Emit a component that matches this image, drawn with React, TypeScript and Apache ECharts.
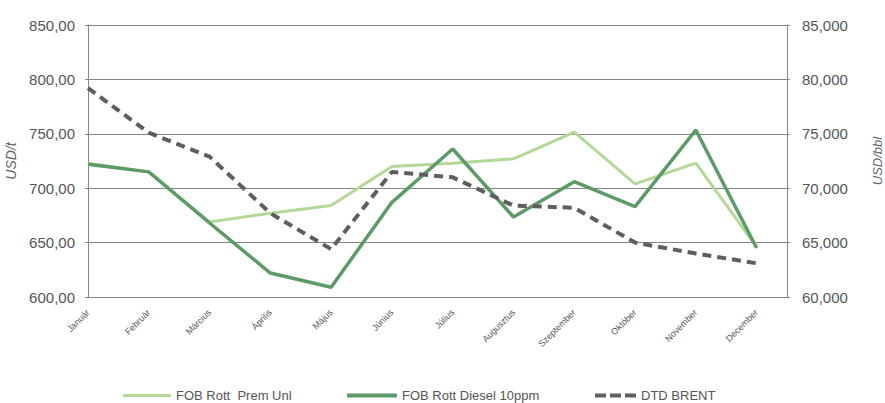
import React, { useEffect, useRef } from "react";
import * as echarts from "echarts";

const months = ["Január", "Február", "Március", "Április", "Május", "Június", "Július", "Augusztus", "Szeptember", "Október", "November", "December"];
const premUnl = [723, 715, 669, 677, 684, 720, 723, 727, 751.5, 704, 723, 646];
const diesel = [722, 715, 668, 622, 609, 687, 736, 673.5, 706, 683, 753.5, 645];
const brent = [79.2, 75.1, 72.9, 67.7, 64.4, 71.5, 71.0, 68.4, 68.2, 65.0, 64.0, 63.1];
const leftTicks = { min: 600, max: 850, interval: 50 };
const rightTicks = { min: 60, max: 85, interval: 5 };

const FONT = "'Liberation Sans', Arial, sans-serif";
const LIGHT = "#b3d898";
const DARK = "#5c9a68";
const GRAYD = "#5e5e5e";

export default function App() {
  const ref = useRef<HTMLDivElement>(null);
  useEffect(() => {
    if (!ref.current) return;
    const chart = echarts.init(ref.current, undefined, { renderer: "svg" });
    const pts = (arr: number[]) => arr.map((v, i) => [i, v]);
    const legendBase = {
      top: 389,
      itemGap: 6,
      padding: 0,
      textStyle: { fontFamily: FONT, fontSize: 13, color: "#555" },
    };
    chart.setOption({
      animation: false,
      textStyle: { fontFamily: FONT },
      grid: { left: 88, right: 98, top: 25, bottom: 106, containLabel: false, outerBoundsMode: "none" },
      legend: [
        { ...legendBase, left: 123, itemWidth: 48, itemHeight: 3, icon: "path://M0,0h48v3h-48z", data: ["FOB Rott  Prem Unl"] },
        { ...legendBase, left: 347, itemWidth: 50, itemHeight: 4, icon: "path://M0,0h50v4h-50z", data: ["FOB Rott Diesel 10ppm"] },
        {
          ...legendBase,
          left: 595,
          itemWidth: 41,
          itemHeight: 4,
          icon: "path://M0,0h11v4h-11z M15,0h11v4h-11z M30,0h11v4h-11z",
          data: ["DTD BRENT"],
        },
      ],
      xAxis: {
        type: "value",
        min: 0,
        max: 11.5,
        interval: 1,
        axisLine: { show: false },
        axisTick: { show: false },
        splitLine: { show: false },
        axisLabel: {
          rotate: 45,
          fontSize: 9,
          color: "#555",
          fontFamily: FONT,
          margin: 14,
          showMaxLabel: false,
          formatter: (v: number) => (Number.isInteger(v) && months[v] ? months[v] : ""),
        },
      },
      yAxis: [
        {
          type: "value",
          ...leftTicks,
          name: "USD/t",
          nameLocation: "middle",
          nameGap: 67,
          nameTextStyle: { fontStyle: "italic", fontSize: 14, color: "#666", fontFamily: FONT },
          axisLine: { show: true, lineStyle: { color: "#888", width: 1 } },
          axisTick: { show: true, length: 3, lineStyle: { color: "#888" } },
          splitLine: { show: true, lineStyle: { color: "#858585", width: 1 } },
          axisLabel: {
            fontSize: 15,
            color: "#555",
            margin: 13,
            fontFamily: FONT,
            formatter: (v: number) => v.toFixed(2).replace(".", ","),
          },
        },
        {
          type: "value",
          ...rightTicks,
          position: "right",
          name: "USD/bbl",
          nameLocation: "middle",
          nameGap: 84,
          nameRotate: 90,
          nameTextStyle: { fontStyle: "italic", fontSize: 13, color: "#666", fontFamily: FONT },
          axisLine: { show: true, lineStyle: { color: "#888", width: 1 } },
          axisTick: { show: true, length: 3, lineStyle: { color: "#888" } },
          splitLine: { show: false },
          axisLabel: {
            fontSize: 15,
            color: "#555",
            margin: 15,
            fontFamily: FONT,
            formatter: (v: number) => v.toFixed(3).replace(".", ","),
          },
        },
      ],
      series: [
        {
          name: "FOB Rott  Prem Unl",
          type: "line",
          data: pts(premUnl),
          yAxisIndex: 0,
          showSymbol: false,
          symbol: "none",
          itemStyle: { color: LIGHT },
          lineStyle: { color: LIGHT, width: 3 },
          z: 2,
        },
        {
          name: "FOB Rott Diesel 10ppm",
          type: "line",
          data: pts(diesel),
          yAxisIndex: 0,
          showSymbol: false,
          symbol: "none",
          itemStyle: { color: DARK },
          lineStyle: { color: DARK, width: 3.5 },
          z: 3,
        },
        {
          name: "DTD BRENT",
          type: "line",
          data: pts(brent),
          yAxisIndex: 1,
          showSymbol: false,
          symbol: "none",
          itemStyle: { color: GRAYD },
          lineStyle: { color: GRAYD, width: 4, type: [9, 6] },
          z: 4,
        },
      ],
    });
    return () => chart.dispose();
  }, []);
  return <div ref={ref} style={{ width: 885, height: 403, position: "absolute", left: 0, top: 0, background: "#fff" }} />;
}
